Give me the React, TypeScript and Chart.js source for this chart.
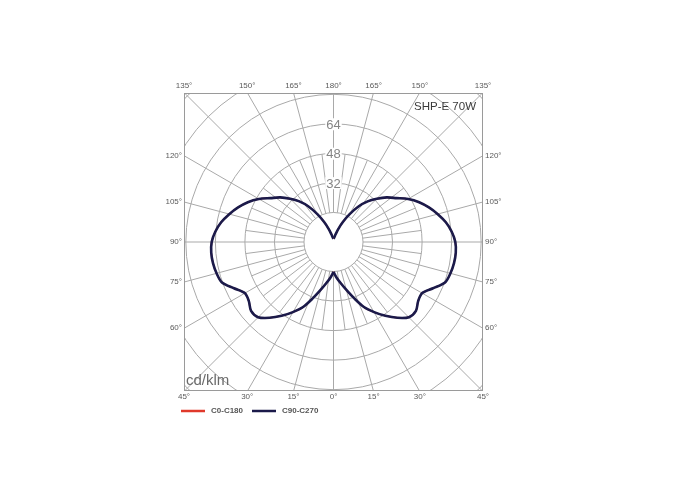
import { useEffect, useRef } from "react";
import { Chart, registerables } from "chart.js";

Chart.register(...registerables);

// Gamma angles (degrees from nadir), one half of the symmetric curve
const GAMMA = [0, 5, 10, 15, 20, 25, 30, 35, 40, 45, 50, 55, 60, 65, 70, 75, 80, 85, 90, 95, 100, 105, 110, 115, 120, 125, 130, 135, 140, 145, 150, 155, 160, 165, 170, 175, 180];

// Luminous intensity (cd/klm)
const C90_C270 = [16.3, 19.5, 22.8, 27, 32.5, 39, 44, 49, 53.8, 57.8, 58.3, 56, 55.5, 59.5, 64.3, 65.6, 66.3, 66.5, 66, 64.3, 61.8, 58.5, 55, 51.2, 46.7, 41.6, 37.7, 33.2, 28.8, 23.6, 17.5, 12, 7.5, 4.2, 2.6, 2.1, 2];
const C0_C180 = [16.3, 19.5, 22.8, 27, 32.5, 39, 44, 49, 53.8, 57.8, 58.3, 56, 55.5, 59.5, 64.3, 65.6, 66.3, 66.5, 66, 64.3, 61.8, 58.5, 55, 51.2, 46.7, 41.6, 37.7, 33.2, 28.8, 23.6, 17.5, 12, 7.5, 4.2, 2.6, 2.1, 2];

const RINGS = [16, 32, 48, 64, 80, 96, 112];
const RING_LABELS = [32, 48, 64];
const TOP_ANGLES = [-135, -150, -165, 180, 165, 150, 135];
const SIDE_ANGLES = [120, 105, 90, 75, 60];
const BOTTOM_ANGLES = [-45, -30, -15, 0, 15, 30, 45];
const TITLE = "SHP-E 70W";
const UNIT = "cd/klm";
const SERIES_NAMES = ["C0-C180", "C90-C270"];
const SERIES_COLORS = ["#e0392b", "#1b1a4a"];

const R_MAX = 81;

function half(values: number[], side: number) {
  return GAMMA.map((g, i) => {
    const a = (g * Math.PI) / 180;
    return { x: side * values[i] * Math.sin(a), y: -values[i] * Math.cos(a) };
  });
}

const polarGrid = {
  id: "polarGrid",
  beforeDatasetsDraw(chart: any) {
    const { ctx, chartArea, scales } = chart;
    const xs = scales.x;
    const ys = scales.y;
    const px = (x: number) => xs.getPixelForValue(x);
    const py = (y: number) => ys.getPixelForValue(y);
    const cx = px(0);
    const cy = py(0);
    const k = (px(10) - px(0)) / 10;
    ctx.save();
    ctx.beginPath();
    ctx.rect(chartArea.left, chartArea.top, chartArea.right - chartArea.left, chartArea.bottom - chartArea.top);
    ctx.clip();
    ctx.strokeStyle = "#a9a9a9";
    ctx.lineWidth = 1;
    // rings
    RINGS.forEach((r) => {
      ctx.beginPath();
      ctx.arc(cx, cy, r * k, 0, Math.PI * 2);
      ctx.stroke();
    });
    // radial lines
    for (let g = 0; g < 360; g += 7.5) {
      const a = (g * Math.PI) / 180;
      const major = g % 15 === 0;
      const r0 = 16 * k;
      const r1 = (major ? 140 : 48) * k;
      ctx.beginPath();
      ctx.moveTo(cx + r0 * Math.sin(a), cy + r0 * Math.cos(a));
      ctx.lineTo(cx + r1 * Math.sin(a), cy + r1 * Math.cos(a));
      ctx.stroke();
    }
    ctx.restore();

    // frame
    ctx.save();
    ctx.strokeStyle = "#9a9a9a";
    ctx.lineWidth = 1;
    ctx.strokeRect(chartArea.left + 0.5, chartArea.top + 0.5, chartArea.right - chartArea.left - 1, chartArea.bottom - chartArea.top - 1);

    // ring labels
    ctx.font = "13px 'Liberation Sans', Arial, sans-serif";
    ctx.textAlign = "center";
    ctx.textBaseline = "middle";
    RING_LABELS.forEach((v) => {
      const y = py(v);
      const w = ctx.measureText(String(v)).width;
      ctx.fillStyle = "#ffffff";
      ctx.fillRect(cx - w / 2 - 1, y - 6, w + 2, 12);
      ctx.fillStyle = "#858585";
      ctx.fillText(String(v), cx, y + 1);
    });

    // angle labels
    ctx.font = "8px 'Liberation Sans', Arial, sans-serif";
    ctx.fillStyle = "#5a5a5a";
    ctx.textAlign = "center";
    TOP_ANGLES.forEach((a) => {
      const abs = Math.abs(a);
      const sign = a < 0 ? -1 : a === 180 ? 0 : 1;
      const x = sign * R_MAX * Math.tan(((180 - abs) * Math.PI) / 180);
      ctx.fillText(abs + "°", px(x), chartArea.top - 7);
    });
    BOTTOM_ANGLES.forEach((a) => {
      const abs = Math.abs(a);
      const sign = a < 0 ? -1 : 1;
      const x = sign * R_MAX * Math.tan((abs * Math.PI) / 180);
      ctx.fillText(abs + "°", px(x), chartArea.bottom + 6);
    });
    SIDE_ANGLES.forEach((a) => {
      const rad = (a * Math.PI) / 180;
      const y = (-R_MAX * Math.cos(rad)) / Math.sin(rad);
      ctx.textAlign = "right";
      ctx.fillText(a + "°", chartArea.left - 2, py(y));
      ctx.textAlign = "left";
      ctx.fillText(a + "°", chartArea.right + 2, py(y));
    });

    // title and unit
    ctx.font = "11.5px 'Liberation Sans', Arial, sans-serif";
    ctx.fillStyle = "#3a3a3a";
    ctx.textAlign = "right";
    ctx.fillText(TITLE, chartArea.right - 7, chartArea.top + 14);
    ctx.font = "15px 'Liberation Sans', Arial, sans-serif";
    ctx.fillStyle = "#6a6a6a";
    ctx.textAlign = "left";
    ctx.fillText(UNIT, chartArea.left + 2, chartArea.bottom - 10);

    // legend
    ctx.font = "bold 8px 'Liberation Sans', Arial, sans-serif";
    const ly = chartArea.bottom + 20;
    const starts = [chartArea.left - 3, chartArea.left + 68];
    SERIES_NAMES.forEach((name, i) => {
      const x0 = starts[i];
      ctx.strokeStyle = SERIES_COLORS[i];
      ctx.lineWidth = 2.5;
      ctx.beginPath();
      ctx.moveTo(x0, ly);
      ctx.lineTo(x0 + 24, ly);
      ctx.stroke();
      ctx.fillStyle = "#555555";
      ctx.textAlign = "left";
      ctx.fillText(name, x0 + 30, ly);
    });
    ctx.restore();
  },
};

export default function App() {
  const ref = useRef<HTMLCanvasElement | null>(null);
  useEffect(() => {
    if (!ref.current) return;
    const mk = (label: string, values: number[], side: number, i: number, width: number, order: number) => ({
      label,
      data: half(values, side),
      showLine: true,
      borderColor: SERIES_COLORS[i],
      borderWidth: width,
      pointRadius: 0,
      tension: 0.3,
      order,
    });
    const chart = new Chart(ref.current, {
      type: "scatter",
      data: {
        datasets: [
          mk(SERIES_NAMES[0], C0_C180, 1, 0, 1.5, 2),
          mk(SERIES_NAMES[0], C0_C180, -1, 0, 1.5, 2),
          mk(SERIES_NAMES[1], C90_C270, 1, 1, 2.6, 1),
          mk(SERIES_NAMES[1], C90_C270, -1, 1, 2.6, 1),
        ],
      },
      options: {
        animation: false,
        responsive: false,
        maintainAspectRatio: false,
        layout: { padding: { left: 184, right: 203, top: 93, bottom: 113 } },
        scales: {
          x: { type: "linear", min: -R_MAX, max: R_MAX, display: false },
          y: { type: "linear", min: -R_MAX, max: R_MAX, display: false },
        },
        plugins: {
          legend: { display: false },
          tooltip: { enabled: false },
        },
      },
      plugins: [polarGrid],
    });
    return () => chart.destroy();
  }, []);
  return (
    <div style={{ position: "absolute", left: 0, top: 0, width: 686, height: 504, background: "#fff" }}>
      <canvas ref={ref} width={686} height={504} />
    </div>
  );
}
